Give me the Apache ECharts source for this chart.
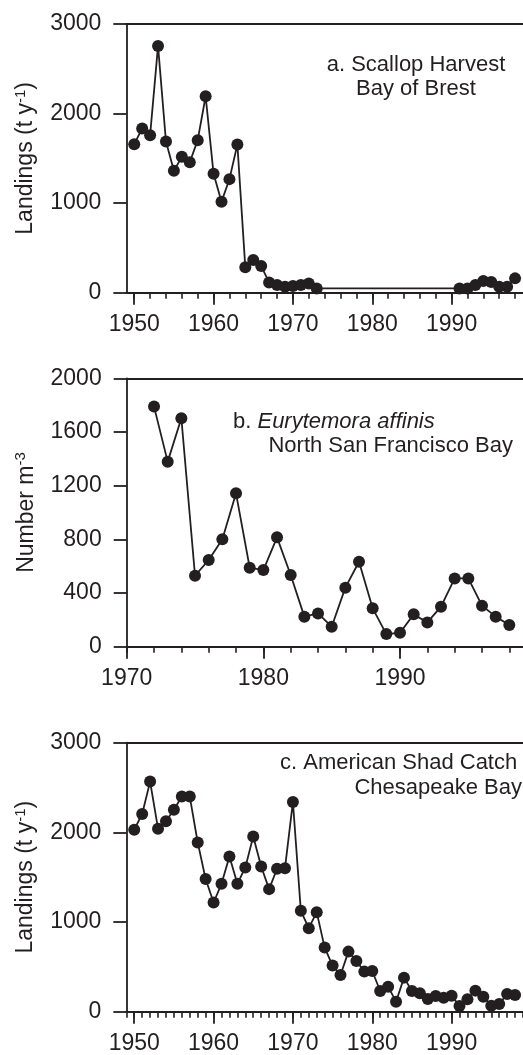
<!DOCTYPE html>
<html>
<head>
<meta charset="utf-8">
<script src="https://cdn.jsdelivr.net/npm/echarts@6/dist/echarts.min.js"></script>
<style>
  html, body { margin: 0; padding: 0; background: #ffffff; }
  #chart { width: 523px; height: 1055px; }
</style>
</head>
<body>
<div id="chart"></div>
<script>
// a. Scallop harvest, Bay of Brest (landings, t per year)
const scallopYears = [1950, 1951, 1952, 1953, 1954, 1955, 1956, 1957, 1958, 1959,
  1960, 1961, 1962, 1963, 1964, 1965, 1966, 1967, 1968, 1969, 1970, 1971, 1972, 1973,
  1991, 1992, 1993, 1994, 1995, 1996, 1997, 1998];
const scallopLandings = [1658, 1833, 1758, 2755, 1688, 1361, 1517, 1457, 1703, 2193,
  1327, 1015, 1268, 1654, 283, 364, 297, 115, 85, 67, 74, 85, 104, 48,
  48, 48, 85, 130, 120, 67, 67, 160];

// b. Eurytemora affinis, North San Francisco Bay (number per m3)
const eurytemoraYears = [1972, 1973, 1974, 1975, 1976, 1977, 1978, 1979, 1980, 1981,
  1982, 1983, 1984, 1985, 1986, 1987, 1988, 1989, 1990, 1991, 1992, 1993, 1994, 1995,
  1996, 1997, 1998];
const eurytemoraDensity = [1789, 1379, 1702, 529, 646, 800, 1143, 589, 571, 815,
  534, 224, 248, 149, 440, 633, 286, 94, 104, 241, 181, 298, 509, 509,
  306, 224, 161];

// c. American shad catch, Chesapeake Bay (landings, t per year)
const shadYears = [1950, 1951, 1952, 1953, 1954, 1955, 1956, 1957, 1958, 1959,
  1960, 1961, 1962, 1963, 1964, 1965, 1966, 1967, 1968, 1969, 1970, 1971, 1972, 1973,
  1974, 1975, 1976, 1977, 1978, 1979, 1980, 1981, 1982, 1983, 1984, 1985, 1986, 1987,
  1988, 1989, 1990, 1991, 1992, 1993, 1994, 1995, 1996, 1997, 1998];
const shadLandings = [2030, 2205, 2566, 2041, 2123, 2253, 2399, 2399, 1888, 1479,
  1218, 1426, 1732, 1426, 1609, 1955, 1620, 1367, 1594, 1601, 2339, 1125, 931, 1110,
  715, 514, 410, 670, 566, 447, 454, 231, 279, 112, 380, 231, 205, 142,
  175, 156, 179, 63, 138, 235, 168, 67, 86, 197, 186];

// Axis tick labels
const longYearLabels = [1950, 1960, 1970, 1980, 1990];
const shortYearLabels = [1970, 1980, 1990];
const landingsTicks = [0, 1000, 2000, 3000];
const densityTicks = [0, 400, 800, 1200, 1600, 2000];

const INK = '#231f20';
const FONT = '"Liberation Sans", Arial, Helvetica, sans-serif';
const plain = v => String(v);

function steps(from, to, step) {
  const out = [];
  for (let v = from; v <= to; v += step) out.push(v);
  return out;
}
function pairs(xs, ys) {
  return xs.map((x, i) => [x, ys[i]]);
}

const panels = [
  { grid: { left: 126.3, top: 24, width: 403.5, height: 268.7 },
    xMin: 1949, xMax: 1999, labels: longYearLabels, minor: steps(1950, 1998, 2),
    yTicks: landingsTicks, yName: 'Landings (t y{sup|-1})' },
  { grid: { left: 126.7, top: 378.3, width: 401, height: 268.4 },
    xMin: 1970, xMax: 1999, labels: shortYearLabels, minor: steps(1970, 1998, 2),
    yTicks: densityTicks, yName: 'Number m{sup|-3}' },
  { grid: { left: 126.3, top: 742.7, width: 403.5, height: 269 },
    xMin: 1949, xMax: 1999, labels: longYearLabels, minor: steps(1949, 1999, 1),
    yTicks: landingsTicks, yName: 'Landings (t y{sup|-1})' }
];

const grids = [], xAxes = [], yAxes = [];
panels.forEach((p, k) => {
  grids.push(p.grid);
  // main bottom axis: decade ticks and labels
  xAxes.push({
    type: 'value', gridIndex: k, position: 'bottom', min: p.xMin, max: p.xMax,
    axisLine: { show: true, lineStyle: { color: INK, width: 1.8 } },
    axisTick: { show: true, customValues: p.labels, length: 12, lineStyle: { color: INK, width: 1.8 } },
    axisLabel: { show: true, customValues: p.labels, formatter: plain, color: INK, fontFamily: FONT, fontSize: 23, margin: 20 },
    splitLine: { show: false }
  });
  // short ticks between decades
  xAxes.push({
    type: 'value', gridIndex: k, position: 'bottom', min: p.xMin, max: p.xMax,
    axisLine: { show: false },
    axisTick: { show: true, customValues: p.minor, length: 6, lineStyle: { color: INK, width: 1.6 } },
    axisLabel: { show: false },
    splitLine: { show: false }
  });
  // top frame line
  xAxes.push({
    type: 'value', gridIndex: k, position: 'top', min: p.xMin, max: p.xMax,
    axisLine: { show: true, lineStyle: { color: INK, width: 1.8 } },
    axisTick: { show: false }, axisLabel: { show: false }, splitLine: { show: false }
  });
  const yt = p.yTicks;
  yAxes.push({
    type: 'value', gridIndex: k, position: 'left',
    min: yt[0], max: yt[yt.length - 1], interval: yt[1] - yt[0],
    axisLine: { show: true, lineStyle: { color: INK, width: 1.8 } },
    axisTick: { show: true, length: 13, lineStyle: { color: INK, width: 1.8 } },
    axisLabel: { formatter: plain, color: INK, fontFamily: FONT, fontSize: 23, margin: 25 },
    splitLine: { show: false },
    name: p.yName, nameLocation: 'middle', nameGap: 88,
    nameTextStyle: {
      color: INK, fontFamily: FONT, fontSize: 23,
      rich: { sup: { color: INK, fontFamily: FONT, fontSize: 15, verticalAlign: 'top', padding: [0, 0, 10, 0] } }
    }
  });
});

function lineSeries(k, xs, ys) {
  return {
    type: 'line', xAxisIndex: k * 3, yAxisIndex: k, data: pairs(xs, ys),
    symbol: 'circle', symbolSize: 12, clip: false,
    lineStyle: { color: INK, width: 1.8 },
    itemStyle: { color: INK },
    emphasis: { disabled: true }
  };
}

function note(text, x, y, align, rich) {
  return {
    type: 'text', x: x, y: y, z: 100,
    style: {
      text: text, fill: INK, fontFamily: FONT, fontSize: 22,
      align: align, textAlign: align, verticalAlign: 'middle', textVerticalAlign: 'middle',
      rich: rich || {}
    }
  };
}
const italic = { i: { fill: INK, fontFamily: FONT, fontSize: 22, fontStyle: 'italic' } };

const chart = echarts.init(document.getElementById('chart'), null, { renderer: 'canvas' });
chart.setOption({
  animation: false,
  backgroundColor: '#ffffff',
  grid: grids,
  xAxis: xAxes,
  yAxis: yAxes,
  series: [
    lineSeries(0, scallopYears, scallopLandings),
    lineSeries(1, eurytemoraYears, eurytemoraDensity),
    lineSeries(2, shadYears, shadLandings)
  ],
  graphic: [
    note('a. Scallop Harvest', 416, 65, 'center'),
    note('Bay of Brest', 416, 89, 'center'),
    note('b. {i|Eurytemora affinis}', 233, 422, 'left', italic),
    note('North San Francisco Bay', 513, 446, 'right'),
    note('c. American Shad Catch', 280, 763, 'left'),
    note('Chesapeake Bay', 522, 788, 'right')
  ]
});
</script>
</body>
</html>
